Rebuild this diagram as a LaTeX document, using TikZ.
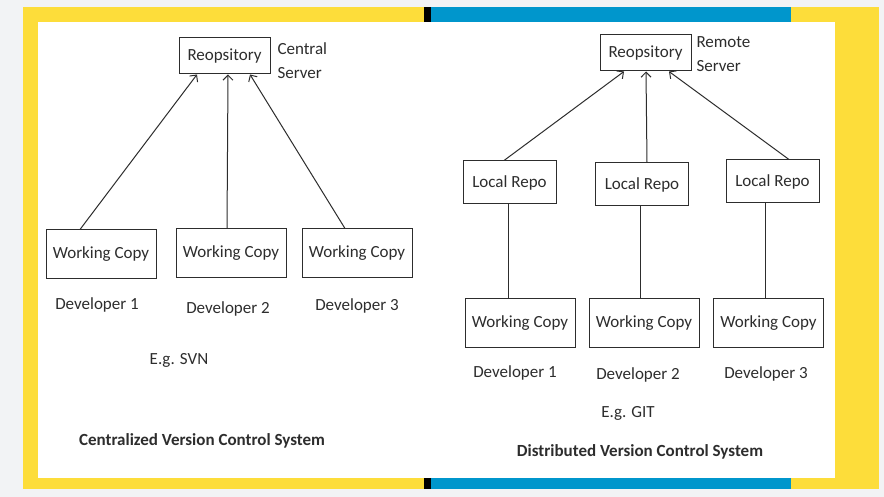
\documentclass[tikz,border=0pt]{standalone}
\usepackage{fontspec}
\setmainfont{Carlito}
\usetikzlibrary{arrows,arrows.meta,positioning}

\definecolor{frameyellow}{RGB}{253,221,58}
\definecolor{frameblue}{RGB}{0,150,204}
\definecolor{pagegray}{RGB}{242,243,245}
\definecolor{inkgray}{RGB}{45,45,45}

\tikzset{
  box/.style={draw=inkgray, line width=1pt, text=inkgray, font=\fontsize{17}{20}\selectfont,
              minimum width=110pt, minimum height=49pt, inner sep=0pt},
  repobox/.style={box, minimum width=91pt, minimum height=36pt},
  localbox/.style={box, minimum width=93pt, minimum height=43pt},
  label/.style={text=inkgray, font=\fontsize{17}{24}\selectfont, inner sep=0pt},
  title/.style={text=inkgray, font=\fontsize{17}{20}\selectfont\bfseries, inner sep=0pt}
}

\begin{document}
\begin{tikzpicture}[x=1pt, y=-1pt, ->, >={Straight Barb[length=5pt,width=10pt]}, line width=1pt, draw=inkgray]
  % frame
  \fill[pagegray] (0,0) rectangle (884,497);
  \useasboundingbox (0,0) rectangle (884,497);
  \fill[frameyellow] (23,7) rectangle (879,489);
  \fill[black] (424,7) rectangle (431,22);
  \fill[black] (424,478) rectangle (431,489);
  \fill[frameblue] (431,7) rectangle (791,22);
  \fill[frameblue] (431,478) rectangle (791,489);
  \fill[white] (38,22) rectangle (835,478);

  % centralized
  \node[repobox] (repoL) at (224.5,56) {Reopsitory};
  \node[label, align=left, anchor=west] (central) at (277,61) {Central\\Server};
  \node[box] (wcLa) at (101,254.5) {Working Copy};
  \node[box] (wcLb) at (231,253.5) {Working Copy};
  \node[box] (wcLc) at (357,253.5) {Working Copy};
  \node[label] (devLa) at (97,305)  {Developer 1};
  \node[label] (devLb) at (228,309) {Developer 2};
  \node[label] (devLc) at (357,306) {Developer 3};
  \node[label] (svn)   at (179,360) {E.g. SVN};
  \node[title] (cvcs)  at (202,441) {Centralized Version Control System};

  % distributed
  \node[repobox] (repoR) at (645.5,53) {Reopsitory};
  \node[label, align=left, anchor=west] (remote) at (696,54) {Remote\\Server};
  \node[localbox] (lrA) at (509.5,182.5) {Local Repo};
  \node[localbox] (lrB) at (642,184.5)   {Local Repo};
  \node[localbox] (lrC) at (772.5,181.5) {Local Repo};
  \node[box] (wcRa) at (520,323)   {Working Copy};
  \node[box] (wcRb) at (644,323)   {Working Copy};
  \node[box] (wcRc) at (768.5,323) {Working Copy};
  \node[label] (devRa) at (515,373) {Developer 1};
  \node[label] (devRb) at (638,375) {Developer 2};
  \node[label] (devRc) at (766,374) {Developer 3};
  \node[label] (git)   at (628,413) {E.g. GIT};
  \node[title] (dvcs)  at (640,452) {Distributed Version Control System};

  \path ([xshift=-21pt]wcLa.north) edge ([xshift=-27.5pt]repoL.south)
        ([xshift=-4pt]wcLb.north)  edge ([xshift=3.5pt]repoL.south)
        ([xshift=-12pt]wcLc.north) edge ([xshift=25.5pt]repoL.south)
        ([xshift=-5.5pt]lrA.north) edge ([xshift=-21.5pt]repoR.south)
        ([xshift=5pt]lrB.north)    edge ([xshift=0.5pt]repoR.south)
        ([xshift=16.5pt]lrC.north) edge ([xshift=23.5pt]repoR.south);

  \path[-] ([xshift=-1.5pt]lrA.south) edge ([xshift=-1.5pt]lrA.south |- wcRa.north)
           ([xshift=-2pt]lrB.south)   edge ([xshift=-2pt]lrB.south |- wcRb.north)
           ([xshift=-7.5pt]lrC.south) edge ([xshift=-7.5pt]lrC.south |- wcRc.north);
\end{tikzpicture}
\end{document}
